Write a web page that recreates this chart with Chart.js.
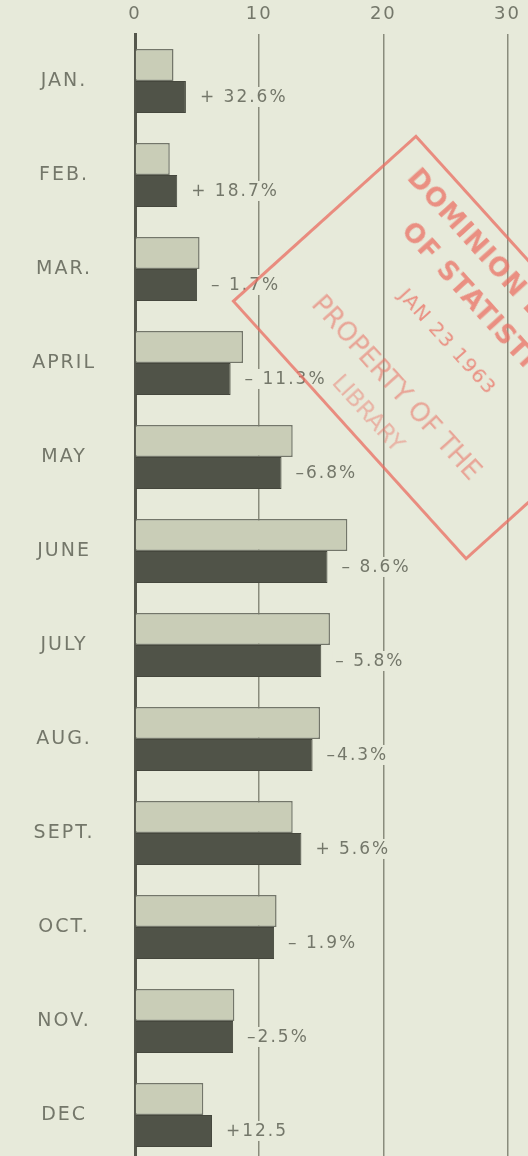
<!DOCTYPE html>
<html>
<head>
<meta charset="utf-8">
<title>Monthly bars</title>
<script src="https://cdn.jsdelivr.net/npm/chart.js@4.4.1/dist/chart.umd.min.js"></script>
<style>
    html, body { margin: 0; padding: 0; background: #e7eada; overflow: hidden; }
    #wrap { position: relative; width: 528px; height: 1162px; }
    #stamp {
        position: absolute; left: 266px; top: 223px; width: 350px; height: 249px;
        box-sizing: border-box; border: 3px solid rgba(234, 108, 96, 0.75);
        transform: rotate(47.9deg); transform-origin: center;
        color: rgba(234, 108, 96, 0.72); font-family: "DejaVu Sans", sans-serif;
        text-align: center; pointer-events: none;
    }
    #stamp div { position: absolute; left: 0; width: 100%; white-space: nowrap; }
</style>
</head>
<body>
<div id="wrap">
    <canvas id="grafik"></canvas>
    <div id="stamp">
        <div style="top:10px;font-size:26px;font-weight:bold;letter-spacing:1px">DOMINION BUREAU</div>
        <div style="top:50px;font-size:26px;font-weight:bold;letter-spacing:1px">OF STATISTICS</div>
        <div style="top:100px;font-size:20px;letter-spacing:1px">JAN 23 1963</div>
        <div style="top:166px;font-size:26px;opacity:0.75">PROPERTY OF THE</div>
        <div style="top:206px;font-size:23px;opacity:0.6">LIBRARY</div>
    </div>
</div>
<script>
// Data
const bulan = ['JAN.', 'FEB.', 'MAR.', 'APRIL', 'MAY', 'JUNE', 'JULY', 'AUG.', 'SEPT.', 'OCT.', 'NOV.', 'DEC'];
const tahunLalu = [3.1, 2.8, 5.2, 8.7, 12.7, 17.1, 15.7, 14.9, 12.7, 11.4, 8.0, 5.5];
const tahunIni = [4.1, 3.4, 5.0, 7.7, 11.8, 15.5, 15.0, 14.3, 13.4, 11.2, 7.9, 6.2];
const perubahan = ['+ 32.6%', '+ 18.7%', '\u2013 1.7%', '\u2013 11.3%', '\u20136.8%', '\u2013 8.6%',
    '\u2013 5.8%', '\u20134.3%', '+ 5.6%', '\u2013 1.9%', '\u20132.5%', '+12.5'];
const xTicks = [0, 10, 20, 30];

const warnaKertas = '#e7eada';
const warnaTeks = '#74776a';
const huruf = '"DejaVu Sans", sans-serif';

// Label persen di kanan bar gelap
const labelPlugin = {
    id: 'labelPersen',
    beforeDraw(chart) {
        chart.ctx.letterSpacing = '2px';
    },
    afterDatasetsDraw(chart) {
        const ctx = chart.ctx;
        const meta = chart.getDatasetMeta(1);
        ctx.save();
        ctx.font = '17px ' + huruf;
        ctx.textBaseline = 'middle';
        ctx.textAlign = 'left';
        meta.data.forEach((bar, i) => {
            const x = bar.x + 14;
            const w = ctx.measureText(perubahan[i]).width;
            ctx.fillStyle = warnaKertas;
            ctx.fillRect(x - 3, bar.y - 10, w + 4, 20);
            ctx.fillStyle = warnaTeks;
            ctx.fillText(perubahan[i], x, bar.y + 1);
        });
        ctx.restore();
    }
};

const ctx = document.getElementById('grafik').getContext('2d');
new Chart(ctx, {
    type: 'bar',
    data: {
        labels: bulan,
        datasets: [{
            label: 'Tahun lalu',
            data: tahunLalu,
            backgroundColor: '#c9cdb7',
            borderColor: '#73766a',
            borderWidth: 1.5,
            borderSkipped: 'start',
            barPercentage: 1.0,
            categoryPercentage: 0.68
        }, {
            label: 'Tahun ini',
            data: tahunIni,
            backgroundColor: '#505348',
            borderColor: '#45473d',
            borderWidth: 1,
            borderSkipped: 'start',
            barPercentage: 1.0,
            categoryPercentage: 0.68
        }]
    },
    options: {
        indexAxis: 'y',
        responsive: true,
        maintainAspectRatio: false,
        animation: false,
        layout: { padding: 0 },
        plugins: {
            legend: { display: false },
            tooltip: { enabled: false }
        },
        scales: {
            x: {
                position: 'top',
                min: 0,
                max: 31.6,
                afterBuildTicks: function(scale) {
                    scale.ticks = xTicks.map(v => ({ value: v }));
                },
                afterFit: function(scale) {
                    scale.height = 34;
                },
                grid: {
                    color: '#8a8c7c',
                    lineWidth: 1.5,
                    drawTicks: false
                },
                border: { display: false },
                ticks: {
                    padding: 9,
                    color: warnaTeks,
                    font: { family: huruf, size: 18 }
                }
            },
            y: {
                afterFit: function(scale) {
                    scale.width = 135;
                    // padding label jangan mengecilkan area chart
                    scale.paddingTop = 0;
                    scale.paddingBottom = 0;
                },
                grid: { display: false, drawTicks: false },
                border: { display: true, color: '#55574c', width: 3 },
                ticks: {
                    crossAlign: 'center',
                    padding: 44,
                    color: warnaTeks,
                    font: { family: huruf, size: 19 }
                }
            }
        }
    },
    plugins: [labelPlugin]
});
</script>
</body>
</html>
